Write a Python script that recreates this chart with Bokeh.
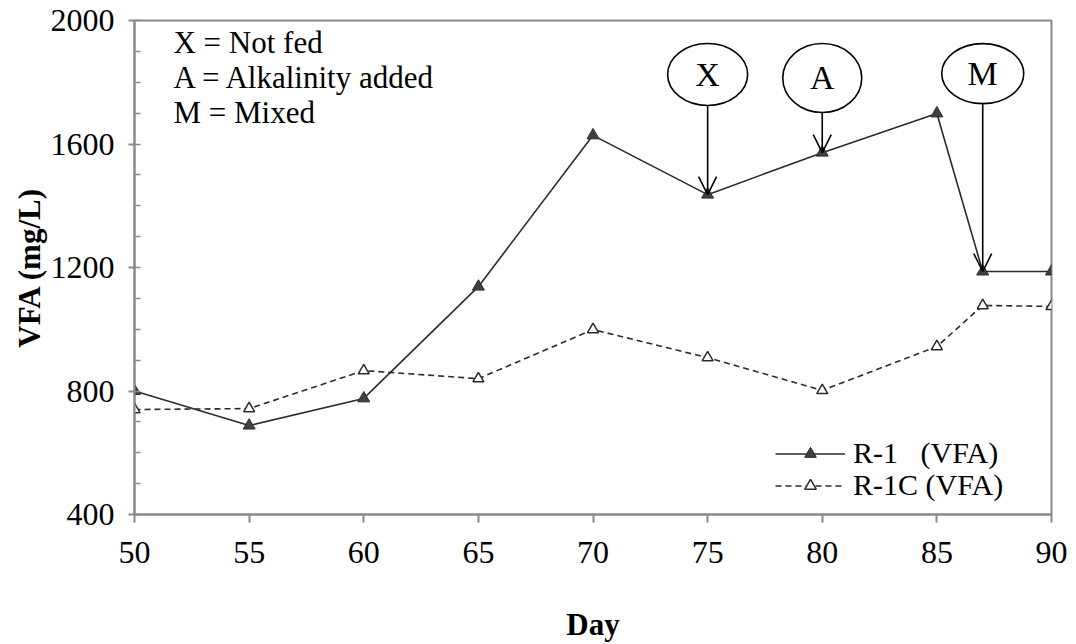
from bokeh.plotting import figure
from bokeh.models import (Range1d, SingleIntervalTicker, Label, Arrow, OpenHead,
                          Legend, LegendItem)
from bokeh.core.properties import value
from bokeh.embed import file_html
from bokeh.resources import INLINE

# ---- data ----
days = [50, 55, 60, 65, 70, 75, 80, 85, 87, 90]
r1 = [800, 688, 776, 1138, 1628, 1436, 1572, 1699, 1187, 1187]
r1c = [740, 743, 866, 840, 999, 908, 802, 944, 1077, 1074]

series_names = ["R-1\u00a0\u00a0\u00a0(VFA)", "R-1C\u00a0(VFA)"]
event_days = [75, 80, 87]
event_tags = ["X", "A", "M"]
notes = ["X = Not fed", "A = Alkalinity added", "M = Mixed"]

FONT = "Liberation Serif"
AXIS_GRAY = "#898989"
DARK = "#2b2b2b"

p = figure(frame_width=917, frame_height=494,
           x_range=Range1d(50, 90), y_range=Range1d(400, 2000),
           output_backend="svg", toolbar_location=None,
           min_border_left=134, min_border_top=20,
           min_border_right=17, min_border_bottom=122,
           background_fill_color="white", border_fill_color="white")

p.xgrid.visible = False
p.ygrid.visible = False
p.outline_line_color = AXIS_GRAY
p.outline_line_width = 2

# axes
p.xaxis.ticker = SingleIntervalTicker(interval=5, num_minor_ticks=0)
p.yaxis.ticker = SingleIntervalTicker(interval=400, num_minor_ticks=4)
for ax in (p.xaxis[0], p.yaxis[0]):
    ax.axis_line_color = AXIS_GRAY
    ax.axis_line_width = 2
    ax.major_tick_line_color = AXIS_GRAY
    ax.major_tick_line_width = 2
    ax.minor_tick_line_color = AXIS_GRAY
    ax.minor_tick_line_width = 1.5
    ax.major_label_text_font = FONT
    ax.major_label_text_font_size = "32px"
    ax.major_label_text_color = "black"
    ax.axis_label_text_font = FONT
    ax.axis_label_text_font_size = "31px"
    ax.axis_label_text_font_style = "bold"
    ax.axis_label_text_color = "black"

p.xaxis.major_tick_out = 8
p.xaxis.major_tick_in = 0
p.xaxis.minor_tick_out = 0
p.xaxis.minor_tick_in = 0
p.xaxis.major_label_standoff = 19
p.xaxis.axis_label = "Day"
p.xaxis.axis_label_standoff = 41

p.yaxis.major_tick_out = 6
p.yaxis.major_tick_in = 0
p.yaxis.minor_tick_out = 0
p.yaxis.minor_tick_in = 6
p.yaxis.major_label_standoff = 14
p.yaxis.axis_label = "VFA (mg/L)"
p.yaxis.axis_label_standoff = 1

# series
l1 = p.line(days, r1, line_color=DARK, line_width=1.6)
s1 = p.scatter(days, r1, marker="triangle", size=12, fill_color="#404040",
               line_color=DARK, line_width=1)
l2 = p.line(days, r1c, line_color=DARK, line_width=1.6, line_dash="6 4")
s2 = p.scatter(days, r1c, marker="triangle", size=11, fill_color="white",
               line_color=DARK, line_width=1.5)

# one legend box per row, so the rows can sit as tightly as in the original
for name, rends, loc_y in zip(series_names, [[l1, s1], [l2, s2]], [44, 12]):
    lg = Legend(items=[LegendItem(label=name, renderers=rends)],
                location=(641, loc_y), padding=0, margin=0, spacing=0,
                glyph_width=70, glyph_height=29, label_height=29,
                label_standoff=8, border_line_color=None,
                background_fill_alpha=0, label_text_font=FONT,
                label_text_font_size="30px", label_text_color="black")
    p.add_layout(lg)

# event markers (ellipses with letters and arrows)
units_per_px = 1600 / 494
level = [1825, 1814, 1828]
ell_w = [80, 79, 82]
ell_h = [62, 69, 60]
p.ellipse(x=event_days, y=level, width=ell_w, height=ell_h,
          width_units="screen", height_units="screen",
          fill_color="white", line_color="black", line_width=1.6)
p.text(x=event_days, y=level, text=event_tags, text_align="center",
       text_baseline="middle", text_font=value(FONT), text_font_size="34px",
       text_color="black")
for d, lv, h in zip(event_days, level, ell_h):
    y0 = lv - (h / 2) * units_per_px
    y1 = r1[days.index(d)]
    p.add_layout(Arrow(end=OpenHead(size=18, line_width=1.6, line_color="black"),
                       x_start=d, y_start=y0, x_end=d, y_end=y1,
                       line_color="black", line_width=1.6))

# notes at top-left
note_y = [1929, 1815, 1702]
for t, ny in zip(notes, note_y):
    p.add_layout(Label(x=51.7, y=ny, text=t, text_baseline="middle",
                       text_font=FONT, text_font_size="31px",
                       text_color="black"))

open("out.html", "w").write(file_html(p, INLINE))
